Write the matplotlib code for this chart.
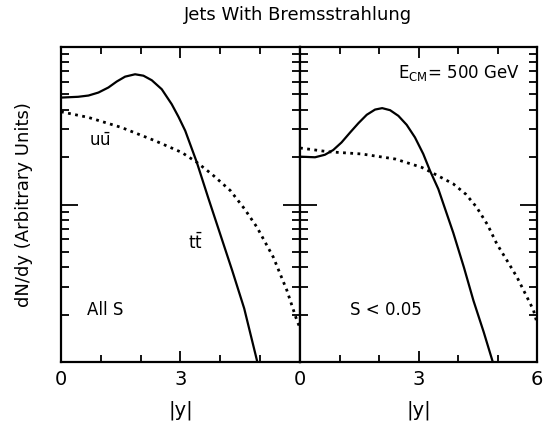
import matplotlib
matplotlib.use("Agg")
import matplotlib.pyplot as plt
from matplotlib.ticker import LogLocator, NullFormatter, FixedLocator

plt.rcParams['font.family'] = ['DejaVu Sans']
plt.rcParams['mathtext.fontset'] = 'dejavusans'

# left panel (All S): log10 of dN/dy
tt_all_x = [0, 0.43, 0.69, 0.94, 1.19, 1.40, 1.61, 1.86, 2.07, 2.28, 2.53, 2.78, 2.95,
            3.12, 3.41, 3.7, 4.0, 4.3, 4.6, 4.93]
tt_all_logy = [1.679, 1.684, 1.692, 1.711, 1.743, 1.781, 1.812, 1.827, 1.818, 1.789, 1.732,
               1.637, 1.557, 1.468, 1.268, 1.04, 0.81, 0.58, 0.34, 0.0]
uu_all_x = [0, 0.69, 1.52, 2.36, 3.03, 3.41, 3.8, 4.25, 4.6, 4.92, 5.33, 5.67, 5.92, 5.99]
uu_all_logy = [1.589, 1.553, 1.489, 1.405, 1.331, 1.268, 1.19, 1.089, 0.975, 0.856, 0.666,
               0.456, 0.266, 0.223]

# right panel (S < 0.05)
tt_cut_x = [0, 0.38, 0.63, 0.84, 1.05, 1.27, 1.48, 1.69, 1.90, 2.08, 2.28, 2.49, 2.70, 2.91,
            3.12, 3.29, 3.50, 3.88, 4.15, 4.39, 4.65, 4.88]
tt_cut_logy = [1.304, 1.30, 1.316, 1.346, 1.394, 1.458, 1.517, 1.570, 1.603, 1.612, 1.599,
               1.563, 1.506, 1.426, 1.321, 1.215, 1.099, 0.82, 0.60, 0.39, 0.19, 0.0]
uu_cut_x = [0, 0.72, 1.56, 2.41, 3.08, 3.33, 3.88, 4.2, 4.47, 4.75, 4.98, 5.25, 5.49, 5.7,
            5.91, 6.0]
uu_cut_logy = [1.359, 1.335, 1.321, 1.289, 1.236, 1.204, 1.131, 1.065, 0.983, 0.87, 0.751,
               0.64, 0.54, 0.435, 0.329, 0.247]


def pw(v):
    return [10 ** a for a in v]


fig = plt.figure(figsize=(5.45, 4.26), dpi=100)
ax1 = fig.add_axes([0.1119, 0.1502, 0.4385, 0.7394])
ax2 = fig.add_axes([0.5505, 0.1502, 0.4349, 0.7394])

ax1.plot(tt_all_x, pw(tt_all_logy), 'k-', lw=1.6)
ax1.plot(uu_all_x, pw(uu_all_logy), color='k', lw=2.0, ls=(0, (1, 1.6)))
ax2.plot(tt_cut_x, pw(tt_cut_logy), 'k-', lw=1.6)
ax2.plot(uu_cut_x, pw(uu_cut_logy), color='k', lw=2.0, ls=(0, (1, 1.6)))

for ax, lab in [(ax1, [0, 3]), (ax2, [0, 3, 6])]:
    ax.set_yscale('log')
    ax.set_xlim(0, 6)
    ax.set_ylim(1, 100)
    ax.xaxis.set_major_locator(FixedLocator(lab))
    ax.xaxis.set_minor_locator(FixedLocator([1, 2, 4, 5]))
    ax.yaxis.set_major_locator(LogLocator(base=10, numticks=5))
    ax.yaxis.set_minor_locator(LogLocator(base=10, subs=range(2, 10), numticks=5))
    ax.yaxis.set_major_formatter(NullFormatter())
    ax.yaxis.set_minor_formatter(NullFormatter())
    ax.tick_params(which='both', direction='in', top=True, right=True, left=True,
                   width=1.3, labelsize=14, pad=6)
    ax.tick_params(axis='x', which='major', length=8)
    ax.tick_params(axis='x', which='minor', length=5)
    ax.tick_params(axis='y', which='major', length=12)
    ax.tick_params(axis='y', which='minor', length=6)
    for s in ax.spines.values():
        s.set_linewidth(1.6)
    ax.set_xlabel('|y|', fontsize=14, labelpad=8)

ax1.set_ylabel('dN/dy (Arbitrary Units)', fontsize=13, labelpad=14)

ax1.text(0.98, 10 ** 1.405, r'$\mathrm{u\bar{u}}$', fontsize=12, ha='center', va='center')
ax1.text(3.37, 10 ** 0.76, r'$\mathrm{t\bar{t}}$', fontsize=12, ha='center', va='center')
ax1.text(0.65, 10 ** 0.33, 'All S', fontsize=12, ha='left', va='center')
ax2.text(1.27, 10 ** 0.33, 'S < 0.05', fontsize=12, ha='left', va='center')
ax2.text(2.48, 10 ** 1.835, r'$\mathrm{E_{CM}}$= 500 GeV', fontsize=12, ha='left', va='center')

fig.text(0.547, 0.965, 'Jets With Bremsstrahlung', fontsize=13, ha='center', va='center')

fig.savefig('out.png', dpi=100)
